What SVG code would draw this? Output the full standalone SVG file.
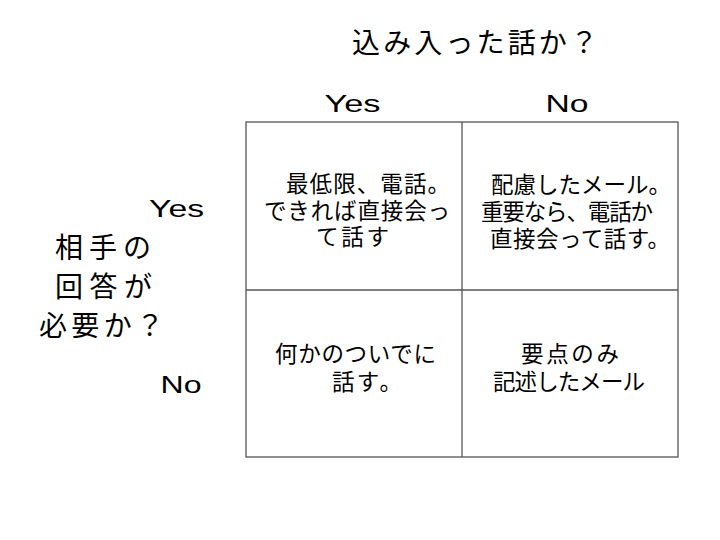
<svg xmlns="http://www.w3.org/2000/svg" width="720" height="540" viewBox="0 0 720 540">
<style>
.jp{font-family:"Noto Sans CJK JP","Noto Sans CJK SC",sans-serif;fill:#000}
.big{font-size:28px}
.cell{font-size:22.5px}
.lat{font-family:"Liberation Sans",Arial,sans-serif;font-size:23px;fill:#000}
.grid{stroke:#555;stroke-width:1.3;fill:none}
</style>
<rect width="720" height="540" fill="#fff"/>
<g id="title">
<text class="jp big" x="352" y="53" textLength="246">込み入った話か？</text>
</g>
<g id="col-labels">
<text class="lat" x="324.5" y="112" textLength="56" lengthAdjust="spacingAndGlyphs">Yes</text>
<text class="lat" x="545.5" y="112" textLength="43" lengthAdjust="spacingAndGlyphs">No</text>
</g>
<g id="row-title">
<text class="jp big" x="55" y="258" textLength="96">相手の</text>
<text class="jp big" x="55" y="297" textLength="97">回答が</text>
<text class="jp big" x="39" y="336" textLength="125">必要か？</text>
</g>
<g id="row-labels">
<text class="lat" x="149" y="217" textLength="55" lengthAdjust="spacingAndGlyphs">Yes</text>
<text class="lat" x="160.5" y="393" textLength="41" lengthAdjust="spacingAndGlyphs">No</text>
</g>
<g id="grid">
<rect class="grid" x="246" y="122" width="432" height="335"/>
<line class="grid" x1="462" y1="122" x2="462" y2="457"/>
<line class="grid" x1="246" y1="290" x2="678" y2="290"/>
</g>
<g id="cell-yes-yes">
<text class="jp cell" x="286" y="192" textLength="164">最低限、電話。</text>
<text class="jp cell" x="264" y="219" textLength="186">できれば直接会っ</text>
<text class="jp cell" x="316" y="245" textLength="73">て話す</text>
</g>
<g id="cell-yes-no">
<text class="jp cell" x="491" y="193" textLength="180">配慮したメール。</text>
<text class="jp cell" x="481" y="220" textLength="172">重要なら、電話か</text>
<text class="jp cell" x="490" y="247" textLength="180">直接会って話す。</text>
</g>
<g id="cell-no-yes">
<text class="jp cell" x="275" y="362" textLength="161">何かのついでに</text>
<text class="jp cell" x="332" y="390" textLength="70">話す。</text>
</g>
<g id="cell-no-no">
<text class="jp cell" x="521" y="362" textLength="98">要点のみ</text>
<text class="jp cell" x="493" y="390" textLength="152">記述したメール</text>
</g>
</svg>
